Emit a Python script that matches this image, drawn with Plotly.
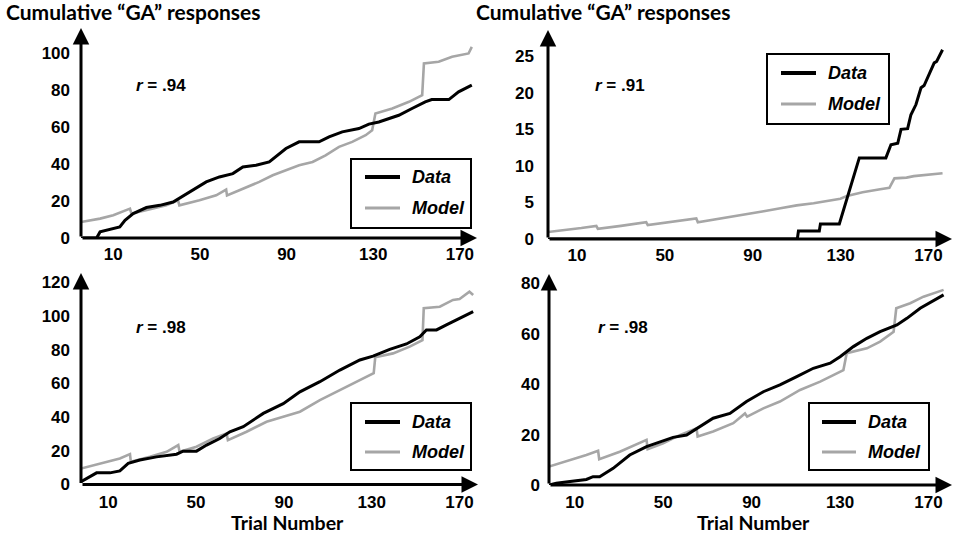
import plotly.graph_objects as go

# ---------------- data (trial number, cumulative count) ----------------
tl_data_t = [-4.9, 2.3, 3.9, 10, 13, 15.4, 19.2, 25.3, 31.5, 37.6, 41.4, 46.8, 52.9, 59, 65.2, 69.8, 75.9, 82, 86.6, 89.7,
             95.8, 105, 109.6, 115.7, 123.4, 128, 132.6, 141.8, 147.9, 154, 157, 164.9, 169.4, 175.5]
tl_data_v = [0, 0, 3.3, 5, 6, 9.6, 13.2, 16.5, 17.7, 19.5, 22.2, 25.9, 30.4, 33.1, 34.9, 38.5, 39.4, 41.2, 45.8, 48.5,
             52.1, 52.1, 54.8, 57.5, 59.3, 61.7, 62.9, 66.5, 70.2, 73.8, 75, 75, 79.2, 82.8]
tl_model_t = [-4.9, 3.9, 10, 16, 17.7, 18.4, 25.3, 34.5, 39.9, 40.5, 49.8, 57.5, 62.1, 62.5, 68.2, 77.4, 83.6, 89.7,
              95.8, 102, 108, 114.2, 120.3, 126.5, 129.5, 131, 138.8, 146.5, 152.6, 153.4, 160.2, 166.4, 172.5, 174, 175.5]
tl_model_v = [8.7, 10.5, 12.3, 15, 15.9, 13.2, 15, 17.7, 20.4, 17.7, 20.4, 23.1, 26.2, 23.1, 25.9, 30.4, 34, 36.7,
              39.4, 41.2, 44.8, 49.4, 52.1, 55.7, 58.4, 67.5, 70.2, 73.8, 77.4, 94.6, 95.5, 98.2, 99.5, 100, 103.6]

tr_data_t = [-3.2, 110.3, 110.8, 120.3, 120.8, 129.4, 138.5, 150.6, 152.9, 156, 157.5, 160.5, 162, 164.3, 166.6, 168,
             172.6, 173.7, 176.4]
tr_data_v = [0, 0, 1.1, 1.1, 2.05, 2.05, 11.1, 11.1, 12.9, 13.1, 15, 15.1, 17, 18.4, 20.7, 21, 24.1, 24.3, 25.9]
tr_model_t = [-3.2, 5, 12, 18.8, 19.5, 30, 41.5, 42.2, 52, 64.3, 65, 75, 87, 95, 102.6, 110, 117.7, 124, 129.9, 132.9,
              140, 148, 152.2, 154.5, 160, 163.3, 170, 176.4]
tr_model_v = [0.96, 1.2, 1.5, 1.8, 1.4, 1.8, 2.3, 1.9, 2.3, 2.8, 2.3, 2.8, 3.3, 3.8, 4.2, 4.6, 4.9, 5.2, 5.5, 5.9,
              6.4, 6.8, 7.0, 8.3, 8.4, 8.6, 8.8, 9.0]

bl_data_t = [-2.4, 0.1, 4.7, 10.8, 15.3, 19.1, 24.4, 32, 41.1, 44.1, 50.2, 54.8, 60.8, 65.4, 71.5, 80.6, 89.7, 97.3,
             106.4, 115.5, 124.6, 130.6, 138.2, 145.8, 151.9, 154.9, 159.5, 164, 170.1, 176.2]
bl_data_v = [1.6, 3.6, 6.9, 6.9, 8.1, 12.5, 14.5, 16.4, 18, 19.8, 19.8, 23.4, 27.3, 31.3, 34.3, 42.2, 48, 55, 61,
             67.9, 73.9, 76.2, 80.2, 83.4, 87.7, 91.7, 91.7, 94.7, 98.6, 102.6]
bl_model_t = [-2.4, 6.2, 15.3, 19.9, 20.3, 29, 36.6, 41.9, 42.5, 50.2, 57.8, 63.9, 64.5, 73, 82.1, 89.7, 97.3, 106.4,
              115.5, 124.6, 130.9, 131.6, 139.7, 147.3, 153.1, 153.7, 161, 167, 170, 174.5, 176.2]
bl_model_v = [9.5, 12.5, 15.4, 18, 13.5, 16.4, 19.4, 23.4, 19.4, 22.4, 27.3, 30.3, 26.3, 31.3, 37.2, 40.2, 43.2, 50.1,
              56, 62, 66, 75.5, 77.8, 81.8, 85.7, 104.6, 105.5, 109.5, 110, 114.4, 112.5]

br_data_t = [-1.6, 1.7, 7, 15.3, 18.3, 21.3, 27.4, 34.9, 42.5, 48.5, 54.5, 60.6, 66.6, 72.6, 80.2, 87.7, 95.3, 102.8,
             110.4, 117.9, 125.5, 130, 136, 142.1, 148.1, 155.7, 160.2, 166.2, 176.8]
br_data_v = [0, 0.7, 1.3, 2.2, 3.3, 3.3, 6.6, 11.9, 15.2, 17.2, 18.9, 19.8, 23.1, 26.5, 28.4, 33.1, 37, 39.7, 43,
             46.3, 48.3, 50.9, 54.9, 58.2, 60.8, 63.5, 66.1, 70.1, 75.4]
br_model_t = [-1.6, 6.2, 15.3, 20.6, 21.1, 30.4, 42.5, 43, 50, 57.5, 65.1, 65.6, 72.6, 81.7, 87, 88, 95.3, 102.8,
              111.9, 121, 131.5, 133, 142.1, 148.1, 154.2, 155.4, 161.7, 167.7, 176.8]
br_model_v = [7.3, 9.3, 11.9, 13.6, 10.2, 13.2, 17.9, 14.2, 16.5, 19.8, 22.5, 19.2, 21.2, 24.5, 28.4, 27.1, 30.4, 33.1,
              37.7, 41, 45.6, 52.3, 54.2, 56.9, 60.8, 70.1, 72.1, 74.7, 77.4]

x_ticks = [10, 50, 90, 130, 170]
tl_yticks = [0, 20, 40, 60, 80, 100]
tr_yticks = [0, 5, 10, 15, 20, 25]
bl_yticks = [0, 20, 40, 60, 80, 100, 120]
br_yticks = [0, 20, 40, 60, 80]
r_labels = [".94", ".91", ".98", ".98"]
series_names = ["Data", "Model"]
y_title = "Cumulative “GA” responses"
x_title = "Trial Number"

# ---------------- layout helpers ----------------
W, H = 957, 533
def px(x):
    return x / W
def py(y):
    return 1 - y / H

BLACK = "#000000"
GRAY = "#a6a6a6"
TICKFONT = dict(family="Liberation Sans, Arial", size=17, color="black", weight="bold")

panels = [
    dict(data=(tl_data_t, tl_data_v), model=(tl_model_t, tl_model_v), yt=tl_yticks,
         xd=[px(81), px(477)], yd=[py(238), py(28)], xr=[-4.9, 177.9], yr=[0, 113.8], ystand=10, xstand=4),
    dict(data=(tr_data_t, tr_data_v), model=(tr_model_t, tr_model_v), yt=tr_yticks,
         xd=[px(548), px(952)], yd=[py(239), py(30)], xr=[-3.2, 180.7], yr=[0, 28.6], ystand=13, xstand=4),
    dict(data=(bl_data_t, bl_data_v), model=(bl_model_t, bl_model_v), yt=bl_yticks,
         xd=[px(81), px(478)], yd=[py(484.5), py(273)], xr=[-2.4, 178.4], yr=[0, 125.5], ystand=10, xstand=5),
    dict(data=(br_data_t, br_data_v), model=(br_model_t, br_model_v), yt=br_yticks,
         xd=[px(549), px(952)], yd=[py(485), py(274)], xr=[-1.6, 180.6], yr=[0, 83.7], ystand=8, xstand=5),
]

fig = go.Figure()
layout = dict(width=W, height=H, margin=dict(l=0, r=0, t=0, b=0), paper_bgcolor="white",
              plot_bgcolor="white", showlegend=False)
annotations = []
shapes = []

for i, p in enumerate(panels):
    n = "" if i == 0 else str(i + 1)
    xa, ya = "x" + n, "y" + n
    fig.add_trace(go.Scatter(x=p["model"][0], y=p["model"][1], mode="lines", name=series_names[1],
                             line=dict(color=GRAY, width=2.6), xaxis=xa, yaxis=ya))
    fig.add_trace(go.Scatter(x=p["data"][0], y=p["data"][1], mode="lines", name=series_names[0],
                             line=dict(color=BLACK, width=3), xaxis=xa, yaxis=ya))
    layout["xaxis" + n] = dict(domain=p["xd"], range=p["xr"], anchor=ya, tickvals=x_ticks, showgrid=False,
                               zeroline=False, showline=False, ticks="", tickfont=TICKFONT, automargin=False,
                               ticklabelstandoff=p["xstand"], fixedrange=True)
    layout["yaxis" + n] = dict(domain=p["yd"], range=p["yr"], anchor=xa, tickvals=p["yt"], showgrid=False,
                               zeroline=False, showline=False, ticks="", tickfont=TICKFONT, automargin=False,
                               ticklabelstandoff=p["ystand"], fixedrange=True)
    # axis arrows
    for (hx, hy) in [(1, 0), (0, 1)]:
        annotations.append(dict(xref=xa + " domain", yref=ya + " domain", axref=xa + " domain",
                                ayref=ya + " domain", x=hx, y=hy, ax=0, ay=0, text="", showarrow=True,
                                arrowhead=2, arrowsize=1.1, arrowwidth=3, arrowcolor="black"))

# r labels
r_pos = [(161, 85), (620, 85), (161, 327), (623, 327)]
for (cx, cy), r in zip(r_pos, r_labels):
    annotations.append(dict(xref="paper", yref="paper", x=px(cx), y=py(cy), text="<i>r</i> = " + r,
                            showarrow=False, xanchor="center", yanchor="middle",
                            font=dict(family="Liberation Sans, Arial", size=17, color="black", weight="bold")))

# titles
TITLEFONT = dict(family="Lato", size=21, color="black")
for lx in [4, 474]:
    annotations.append(dict(xref="paper", yref="paper", x=px(lx), y=py(12), text="<b>" + y_title + "</b>",
                            showarrow=False, xanchor="left", yanchor="middle", font=TITLEFONT))
for cx in [287, 753]:
    annotations.append(dict(xref="paper", yref="paper", x=px(cx), y=py(522), text="<b>" + x_title + "</b>",
                            showarrow=False, xanchor="center", yanchor="middle",
                            font=dict(family="Lato", size=19.5, color="black")))

# legend boxes (drawn)
legends = [
    dict(box=(351, 159, 471, 228), lx=(365, 400), ly=(177, 208), tx=410),
    dict(box=(767, 54, 889, 124), lx=(781, 816), ly=(73, 104), tx=826),
    dict(box=(351, 403, 471, 470), lx=(365, 400), ly=(422, 452), tx=410),
    dict(box=(809, 403, 929, 470), lx=(822, 856), ly=(422, 452), tx=866),
]
LEGFONT = dict(family="Liberation Sans, Arial", size=18, color="black")
for lg in legends:
    x0, y0, x1, y1 = lg["box"]
    shapes.append(dict(type="rect", xref="paper", yref="paper", x0=px(x0), x1=px(x1), y0=py(y1), y1=py(y0),
                       line=dict(color="black", width=2), fillcolor="white", layer="above"))
    for name, yy, col, wd in [(series_names[0], lg["ly"][0], BLACK, 4), (series_names[1], lg["ly"][1], GRAY, 3)]:
        shapes.append(dict(type="line", xref="paper", yref="paper", x0=px(lg["lx"][0]), x1=px(lg["lx"][1]),
                           y0=py(yy), y1=py(yy), line=dict(color=col, width=wd), layer="above"))
        annotations.append(dict(xref="paper", yref="paper", x=px(lg["tx"]), y=py(yy), text="<b><i>" + name + "</i></b>",
                                showarrow=False, xanchor="left", yanchor="middle", font=LEGFONT))

layout["annotations"] = annotations
layout["shapes"] = shapes
layout["font"] = dict(family="Liberation Sans, Arial", color="black")
fig.update_layout(**layout)
fig.write_html("out.html", config={"displayModeBar": False},
               post_script="document.body.style.margin='0';document.body.style.padding='0';")
